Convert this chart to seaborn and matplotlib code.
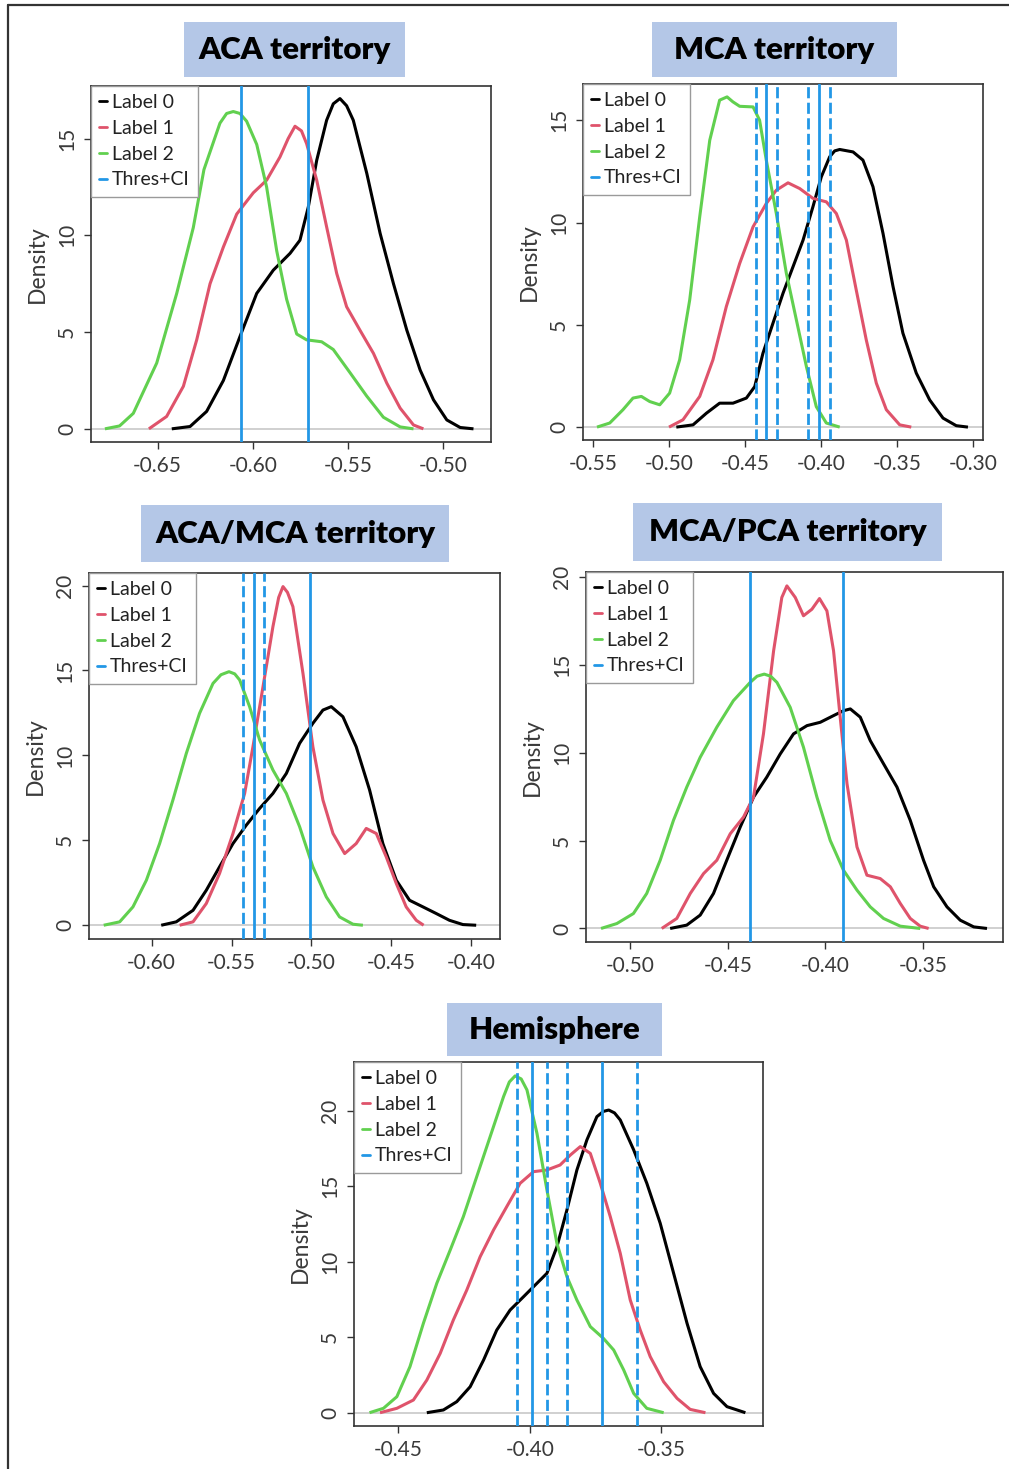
import matplotlib
matplotlib.use("Agg")
import matplotlib.pyplot as plt
import seaborn as sns
from matplotlib.lines import Line2D
from matplotlib.patches import Rectangle

# ---- data (density curves, x / y pairs) ----

# ACA territory
ACA_L0_X = [-0.6426, -0.6330, -0.6243, -0.6155, -0.6068, -0.5980, -0.5893, -0.5805, -0.5753, -0.5709,
            -0.5665, -0.5613, -0.5578, -0.5543, -0.5508, -0.5473, -0.5402, -0.5332, -0.5262, -0.5192,
            -0.5122, -0.5052, -0.4982, -0.4912, -0.4842]
ACA_L0_Y = [0, 0.12, 0.9, 2.5, 4.77, 7.0, 8.2, 9.07, 9.75, 11.47,
            13.88, 15.95, 16.8, 17.07, 16.7, 15.95, 13.2, 10.1, 7.5, 5.1,
            3.04, 1.5, 0.46, 0.07, 0]
ACA_L1_X = [-0.6546, -0.6453, -0.6365, -0.6295, -0.6225, -0.6155, -0.6085, -0.5998, -0.5928, -0.5858,
            -0.5815, -0.5779, -0.5745, -0.5718, -0.5665, -0.5613, -0.5560, -0.5508, -0.5438, -0.5367,
            -0.5297, -0.5227, -0.5157, -0.5105]
ACA_L1_Y = [0, 0.64, 2.2, 4.6, 7.5, 9.4, 11.1, 12.2, 12.85, 14.05,
            15.0, 15.64, 15.4, 14.74, 12.85, 10.44, 8.03, 6.31, 5.1, 3.9,
            2.36, 1.07, 0.2, 0]
ACA_L2_X = [-0.6777, -0.6700, -0.6628, -0.6505, -0.6400, -0.6313, -0.6257, -0.6173, -0.6138, -0.6103,
            -0.6068, -0.6033, -0.5980, -0.5928, -0.5875, -0.5823, -0.5770, -0.5718, -0.5639, -0.5578,
            -0.5490, -0.5403, -0.5315, -0.5227, -0.5157]
ACA_L2_Y = [0, 0.15, 0.8, 3.4, 7.0, 10.4, 13.4, 15.8, 16.3, 16.4,
            16.3, 15.9, 14.7, 12.5, 9.2, 6.7, 4.9, 4.6, 4.5, 4.1,
            2.9, 1.7, 0.6, 0.1, 0]
ACA_SOLID = [-0.6064, -0.5709]
ACA_DASHED = []

# MCA territory
MCA_L0_X = [-0.4952, -0.4842, -0.4754, -0.4667, -0.4579, -0.4491, -0.4436, -0.4382, -0.4316, -0.4250,
            -0.4184, -0.4118, -0.4053, -0.3998, -0.3943, -0.3910, -0.3877, -0.3789, -0.3724, -0.3658,
            -0.3592, -0.3526, -0.3461, -0.3373, -0.3285, -0.3197, -0.3110, -0.3033]
MCA_L0_Y = [0, 0.11, 0.68, 1.17, 1.17, 1.42, 1.98, 3.61, 5.08, 6.54,
            7.84, 9.14, 10.77, 12.23, 13.21, 13.5, 13.57, 13.45, 13.05, 11.75,
            9.47, 6.87, 4.59, 2.64, 1.33, 0.44, 0.07, 0]
MCA_L1_X = [-0.5000, -0.4908, -0.4798, -0.4711, -0.4623, -0.4535, -0.4447, -0.4360, -0.4294, -0.4217,
            -0.4140, -0.4053, -0.3965, -0.3899, -0.3833, -0.3768, -0.3702, -0.3636, -0.3570, -0.3482,
            -0.3406]
MCA_L1_Y = [0, 0.36, 1.5, 3.29, 5.89, 8.0, 9.79, 10.93, 11.58, 11.94,
            11.66, 11.18, 11.01, 10.44, 9.14, 6.70, 4.26, 2.15, 0.85, 0.11,
            0]
MCA_L2_X = [-0.5474, -0.5390, -0.5303, -0.5237, -0.5182, -0.5127, -0.5061, -0.4996, -0.4930, -0.4864,
            -0.4798, -0.4732, -0.4667, -0.4618, -0.4580, -0.4535, -0.4447, -0.4404, -0.4360, -0.4294,
            -0.4228, -0.4162, -0.4096, -0.4031, -0.3965, -0.3877]
MCA_L2_Y = [0, 0.2, 0.85, 1.42, 1.5, 1.25, 1.09, 1.66, 3.29, 6.21,
            10.28, 14.02, 15.98, 16.14, 15.9, 15.68, 15.65, 15.0, 13.05, 10.44,
            7.52, 5.24, 2.96, 1.0, 0.2, 0]
MCA_SOLID = [-0.4360, -0.4015]
MCA_DASHED = [-0.4425, -0.4292, -0.4083, -0.3941]

# ACA/MCA territory
AM_L0_X = [-0.5940, -0.5846, -0.5741, -0.5658, -0.5575, -0.5491, -0.5408, -0.5324, -0.5241, -0.5157,
           -0.5074, -0.4991, -0.4928, -0.4876, -0.4803, -0.4720, -0.4636, -0.4553, -0.4469, -0.4386,
           -0.4302, -0.4219, -0.4136, -0.4052, -0.3969]
AM_L0_Y = [0, 0.2, 0.88, 2.06, 3.44, 4.81, 5.89, 6.88, 7.76, 8.94,
           10.71, 11.89, 12.67, 12.87, 12.28, 10.51, 7.96, 4.81, 2.65, 1.47,
           1.08, 0.69, 0.29, 0.04, 0]
AM_L1_X = [-0.5825, -0.5741, -0.5658, -0.5575, -0.5491, -0.5418, -0.5366, -0.5303, -0.5241, -0.5205,
           -0.5178, -0.5150, -0.5116, -0.5053, -0.4991, -0.4928, -0.4865, -0.4792, -0.4720, -0.4657,
           -0.4594, -0.4532, -0.4469, -0.4407, -0.4344, -0.4298]
AM_L1_Y = [0, 0.2, 1.28, 3.05, 5.4, 7.76, 10.51, 14.05, 17.58, 19.3,
           19.94, 19.6, 18.76, 14.83, 10.51, 7.37, 5.4, 4.22, 4.81, 5.7,
           5.4, 4.03, 2.46, 1.08, 0.29, 0]
AM_L2_X = [-0.6300, -0.6200, -0.6117, -0.6033, -0.5950, -0.5867, -0.5783, -0.5700, -0.5616, -0.5566,
           -0.5516, -0.5480, -0.5449, -0.5387, -0.5324, -0.5241, -0.5157, -0.5074, -0.4991, -0.4907,
           -0.4824, -0.4740, -0.4678]
AM_L2_Y = [0, 0.2, 1.08, 2.65, 4.81, 7.37, 10.12, 12.48, 14.24, 14.75,
           14.93, 14.8, 14.44, 12.87, 10.9, 9.14, 7.76, 5.8, 3.44, 1.67,
           0.49, 0.06, 0]
AM_SOLID = [-0.5362, -0.5011]
AM_DASHED = [-0.5429, -0.5297]

# MCA/PCA territory
MP_L0_X = [-0.4795, -0.4710, -0.4641, -0.4573, -0.4505, -0.4436, -0.4368, -0.4300, -0.4231, -0.4163,
           -0.4094, -0.4026, -0.3958, -0.3907, -0.3872, -0.3821, -0.3770, -0.3702, -0.3633, -0.3565,
           -0.3497, -0.3445, -0.3377, -0.3309, -0.3240, -0.3172]
MP_L0_Y = [0, 0.19, 0.76, 1.99, 3.88, 5.77, 7.47, 8.61, 9.93, 11.07,
           11.54, 11.73, 12.11, 12.39, 12.49, 12.02, 10.69, 9.37, 8.04, 6.15,
           3.88, 2.37, 1.23, 0.47, 0.09, 0]
MP_L1_X = [-0.4838, -0.4761, -0.4692, -0.4624, -0.4556, -0.4487, -0.4419, -0.4368, -0.4317, -0.4265,
           -0.4223, -0.4197, -0.4154, -0.4112, -0.4069, -0.4030, -0.3992, -0.3958, -0.3924, -0.3889,
           -0.3838, -0.3787, -0.3719, -0.3667, -0.3616, -0.3565, -0.3514, -0.3471]
MP_L1_Y = [0, 0.57, 1.99, 3.12, 3.88, 5.39, 6.34, 7.47, 11.07, 15.80,
           18.83, 19.49, 18.83, 17.79, 18.16, 18.77, 18.07, 15.80, 12.02, 8.23,
           4.64, 3.03, 2.84, 2.37, 1.42, 0.57, 0.13, 0]
MP_L2_X = [-0.5149, -0.5068, -0.4983, -0.4915, -0.4846, -0.4778, -0.4710, -0.4641, -0.4556, -0.4471,
           -0.4385, -0.4350, -0.4313, -0.4280, -0.4248, -0.4180, -0.4112, -0.4043, -0.3975, -0.3907,
           -0.3838, -0.3770, -0.3702, -0.3616, -0.3514]
MP_L2_Y = [0, 0.28, 0.85, 1.99, 3.88, 6.15, 8.04, 9.74, 11.45, 12.96,
           14.0, 14.35, 14.47, 14.35, 14.0, 12.58, 10.31, 7.47, 5.01, 3.31,
           2.18, 1.23, 0.57, 0.13, 0]
MP_SOLID = [-0.4388, -0.3912]
MP_DASHED = []

# Hemisphere
HEM_L0_X = [-0.4392, -0.4329, -0.4278, -0.4227, -0.4176, -0.4126, -0.4075, -0.4024, -0.3973, -0.3935,
            -0.3897, -0.3859, -0.3821, -0.3783, -0.3745, -0.3720, -0.3700, -0.3678, -0.3656, -0.3605,
            -0.3555, -0.3504, -0.3453, -0.3402, -0.3352, -0.3301, -0.3250, -0.3180]
HEM_L0_Y = [0, 0.18, 0.73, 1.72, 3.49, 5.47, 6.80, 7.68, 8.57, 9.23,
            10.99, 13.42, 16.07, 18.06, 19.60, 19.95, 20.04, 19.85, 19.38, 17.40,
            15.19, 12.54, 9.23, 5.92, 3.05, 1.28, 0.40, 0]
HEM_L1_X = [-0.4570, -0.4506, -0.4443, -0.4392, -0.4341, -0.4291, -0.4240, -0.4189, -0.4138, -0.4088,
            -0.4037, -0.3986, -0.3935, -0.3885, -0.3846, -0.3808, -0.3770, -0.3732, -0.3694, -0.3656,
            -0.3618, -0.3580, -0.3542, -0.3491, -0.3440, -0.3390, -0.3332]
HEM_L1_Y = [0, 0.29, 0.84, 2.16, 3.93, 6.14, 8.12, 10.33, 12.10, 13.64,
            15.19, 15.96, 16.07, 16.40, 17.06, 17.62, 17.17, 15.19, 12.98, 10.55,
            7.46, 5.47, 3.71, 2.05, 0.95, 0.22, 0]
HEM_L2_X = [-0.4610, -0.4557, -0.4506, -0.4456, -0.4405, -0.4354, -0.4303, -0.4253, -0.4202, -0.4151,
            -0.4100, -0.4078, -0.4056, -0.4033, -0.4011, -0.3973, -0.3935, -0.3897, -0.3859, -0.3821,
            -0.3770, -0.3720, -0.3681, -0.3643, -0.3605, -0.3555, -0.3491]
HEM_L2_Y = [0, 0.29, 1.06, 3.05, 5.92, 8.57, 10.77, 12.98, 15.63, 18.28,
            20.93, 21.9, 22.30, 22.1, 21.37, 18.50, 14.75, 11.21, 9.01, 7.46,
            5.70, 4.92, 4.15, 2.83, 1.28, 0.29, 0]
HEM_SOLID = [-0.3991, -0.3725]
HEM_DASHED = [-0.4047, -0.3935, -0.3857, -0.3593]

LEGEND_LABELS = ["Label 0", "Label 1", "Label 2", "Thres+CI"]
COLORS = ["#000000", "#DF536B", "#61D04F", "#2297E6"]
TITLE_BG = "#B4C7E7"

W, H = 1009, 1469

sns.set_theme(style="white")
plt.rcParams["font.family"] = ["Lato", "DejaVu Sans"]
plt.rcParams["axes.unicode_minus"] = False

fig = plt.figure(figsize=(W / 100, H / 100), dpi=100)


def px_axes(l, t, r, b):
    return fig.add_axes([l / W, 1 - b / H, (r - l) / W, (b - t) / H])


def title_box(l, t, r, b, text):
    fig.add_artist(Rectangle((l / W, 1 - b / H), (r - l) / W, (b - t) / H,
                             transform=fig.transFigure, facecolor=TITLE_BG,
                             edgecolor="none", zorder=0))
    fig.text((l + r) / 2 / W, 1 - (t + b) / 2 / H, text, ha="center", va="center",
             fontsize=22.5, fontweight="heavy", color="black")


def panel(box, curves, solid, dashed, xlim, ylim, xticks, yticks):
    ax = px_axes(*box)
    ax.axhline(0, color="#C8C8C8", lw=1.2, zorder=1)
    for (xs, ys), c in zip(curves, COLORS):
        sns.lineplot(x=xs, y=ys, color=c, lw=2.2, sort=False, estimator=None, ax=ax,
                     zorder=3, solid_joinstyle="round", solid_capstyle="butt")
    for v in solid:
        ax.axvline(v, color=COLORS[3], lw=2.0, zorder=4)
    for v in dashed:
        ax.axvline(v, color=COLORS[3], lw=2.0, ls=(0, (4, 1.6)), zorder=4)
    ax.set_xlim(*xlim)
    ax.set_ylim(*ylim)
    ax.set_xticks(xticks)
    ax.set_xticklabels([f"{t:.2f}" for t in xticks])
    ax.set_yticks(yticks)
    ax.set_yticklabels([str(t) for t in yticks], rotation=90, va="center")
    ax.tick_params(direction="out", length=5, width=1, color="#333333",
                   labelcolor="#3A3A3A", labelsize=15, pad=5, bottom=True, left=True)
    for s in ax.spines.values():
        s.set_color("#333333")
        s.set_linewidth(1.2)
    ax.set_xlabel("")
    ax.set_ylabel("Density", fontsize=16.5, color="#3A3A3A", labelpad=7)
    handles = [Line2D([], [], color=c, lw=2) for c in COLORS]
    leg = ax.legend(handles, LEGEND_LABELS, loc="upper left", borderaxespad=0,
                    handlelength=0.4, handletextpad=0.25, labelspacing=0.45,
                    borderpad=0.42, fontsize=14, fancybox=False, framealpha=1,
                    edgecolor="#9A9A9A")
    leg.get_frame().set_linewidth(1.0)
    for t in leg.get_texts():
        t.set_color("#222222")
    return ax


panel((91, 86, 491, 442),
      [(ACA_L0_X, ACA_L0_Y), (ACA_L1_X, ACA_L1_Y), (ACA_L2_X, ACA_L2_Y)],
      ACA_SOLID, ACA_DASHED, (-0.685, -0.475), (-0.68, 17.72),
      [-0.65, -0.60, -0.55, -0.50], [0, 5, 10, 15])
title_box(184, 22, 405, 77, "ACA territory")

panel((583, 84, 983, 440),
      [(MCA_L0_X, MCA_L0_Y), (MCA_L1_X, MCA_L1_Y), (MCA_L2_X, MCA_L2_Y)],
      MCA_SOLID, MCA_DASHED, (-0.5566, -0.2934), (-0.63, 16.77),
      [-0.55, -0.50, -0.45, -0.40, -0.35, -0.30], [0, 5, 10, 15])
title_box(652, 22, 897, 77, "MCA territory")

panel((89, 573, 500, 939),
      [(AM_L0_X, AM_L0_Y), (AM_L1_X, AM_L1_Y), (AM_L2_X, AM_L2_Y)],
      AM_SOLID, AM_DASHED, (-0.6392, -0.382), (-0.81, 20.74),
      [-0.60, -0.55, -0.50, -0.45, -0.40], [0, 5, 10, 15, 20])
title_box(141, 505, 449, 562, "ACA/MCA territory")

panel((586, 572, 1003, 942),
      [(MP_L0_X, MP_L0_Y), (MP_L1_X, MP_L1_Y), (MP_L2_X, MP_L2_Y)],
      MP_SOLID, MP_DASHED, (-0.5226, -0.309), (-0.77, 20.28),
      [-0.50, -0.45, -0.40, -0.35], [0, 5, 10, 15, 20])
title_box(633, 503, 942, 561, "MCA/PCA territory")

panel((354, 1062, 763, 1426),
      [(HEM_L0_X, HEM_L0_Y), (HEM_L1_X, HEM_L1_Y), (HEM_L2_X, HEM_L2_Y)],
      HEM_SOLID, HEM_DASHED, (-0.4669, -0.3113), (-0.88, 23.22),
      [-0.45, -0.40, -0.35], [0, 5, 10, 15, 20])
title_box(447, 1003, 662, 1056, "Hemisphere")

# outer frame (top and left edges only)
fig.add_artist(Line2D([8 / W, 8 / W], [0, 1 - 5 / H], transform=fig.transFigure,
                      color="#333333", lw=1.6))
fig.add_artist(Line2D([8 / W, 1], [1 - 5 / H, 1 - 5 / H], transform=fig.transFigure,
                      color="#333333", lw=1.6))

fig.savefig("out.png", dpi=100)
